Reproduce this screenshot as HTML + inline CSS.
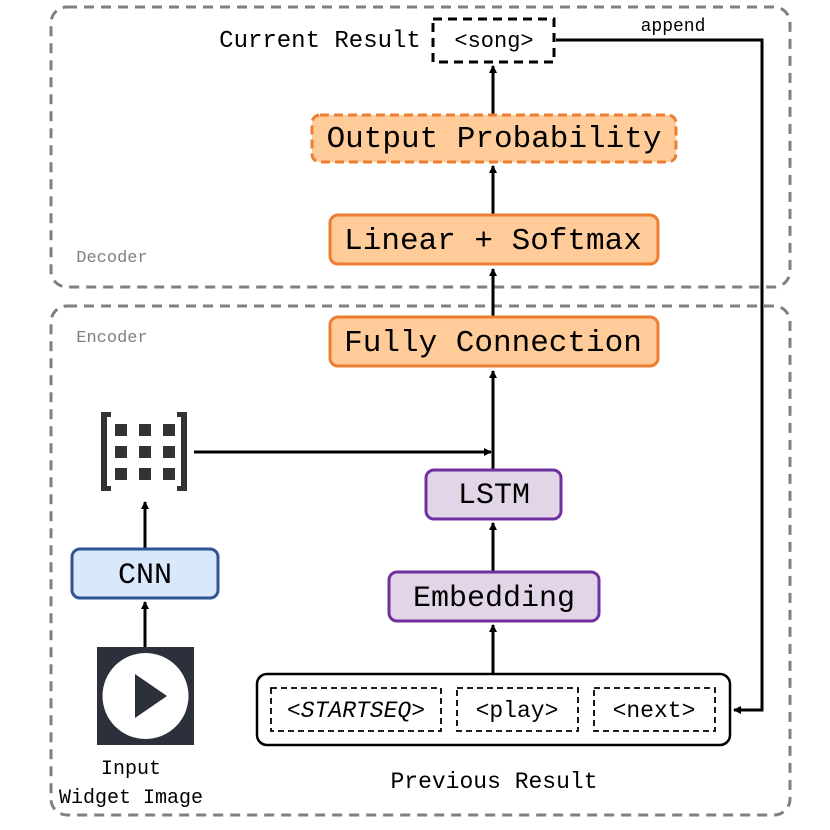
<!DOCTYPE html>
<html><head><meta charset="utf-8"><style>
html,body{margin:0;padding:0;background:#fff;}
svg{display:block;}
text{font-family:"Liberation Mono","Courier New",monospace;text-anchor:middle;}
</style></head><body>
<svg width="830" height="830" viewBox="0 0 830 830" xmlns="http://www.w3.org/2000/svg">
<defs>
<marker id="ah" markerWidth="8" markerHeight="8" refX="7" refY="4" orient="auto" markerUnits="userSpaceOnUse">
<path d="M0,0 L8,4 L0,8 Z" fill="#000"/>
</marker>
</defs>
<rect x="51" y="7" width="739" height="280" rx="16" fill="none" stroke="#808080" stroke-width="3" stroke-dasharray="10,7"/>
<rect x="51" y="306" width="739" height="509" rx="16" fill="none" stroke="#808080" stroke-width="3" stroke-dasharray="10,7"/>
<text x="112" y="262" font-size="17" fill="#808080">Decoder</text>
<text x="112" y="342" font-size="17" fill="#808080">Encoder</text>

<g stroke="#000" stroke-width="3" fill="none">
<line x1="493" y1="114" x2="493" y2="66" marker-end="url(#ah)"/>
<line x1="493" y1="215" x2="493" y2="166" marker-end="url(#ah)"/>
<line x1="493" y1="317" x2="493" y2="269" marker-end="url(#ah)"/>
<line x1="493" y1="470" x2="493" y2="371" marker-end="url(#ah)"/>
<line x1="493" y1="572" x2="493" y2="523" marker-end="url(#ah)"/>
<line x1="493" y1="674" x2="493" y2="625" marker-end="url(#ah)"/>
<line x1="194" y1="452" x2="491" y2="452" marker-end="url(#ah)"/>
<line x1="145" y1="549" x2="145" y2="502" marker-end="url(#ah)"/>
<line x1="145" y1="647" x2="145" y2="602" marker-end="url(#ah)"/>
<polyline points="556,40 762,40 762,710 734,710" marker-end="url(#ah)"/>
</g>
<text x="673" y="31" font-size="18">append</text>

<rect x="433" y="19" width="121" height="43" fill="#fff" stroke="#000" stroke-width="3" stroke-dasharray="9,6"/>
<text x="494" y="47" font-size="22">&lt;song&gt;</text>
<text x="320" y="47" font-size="24">Current Result</text>

<rect x="312" y="115" width="364" height="47" rx="8" fill="#ffcc99" stroke="#ed7d31" stroke-width="3" stroke-dasharray="9,5"/>
<text x="494" y="147" font-size="31">Output Probability</text>
<rect x="330" y="215" width="328" height="49" rx="8" fill="#ffcc99" stroke="#ed7d31" stroke-width="3"/>
<text x="493" y="249" font-size="31">Linear + Softmax</text>
<rect x="330" y="317" width="328" height="49" rx="8" fill="#ffcc99" stroke="#ed7d31" stroke-width="3"/>
<text x="493" y="351" font-size="31">Fully Connection</text>

<rect x="426" y="470" width="135" height="49" rx="8" fill="#e1d5e7" stroke="#7030a0" stroke-width="3"/>
<text x="494" y="503" font-size="30">LSTM</text>
<rect x="389" y="572" width="210" height="49" rx="8" fill="#e1d5e7" stroke="#7030a0" stroke-width="3"/>
<text x="494" y="606" font-size="30">Embedding</text>

<rect x="72" y="549" width="146" height="49" rx="8" fill="#dae8fc" stroke="#2f5597" stroke-width="3"/>
<text x="145" y="583" font-size="30">CNN</text>

<g fill="#333">
<path d="M101,412 h10 v5 h-4 v69 h4 v5 h-10 z"/>
<path d="M187,412 h-10 v5 h4 v69 h-4 v5 h10 z"/>
<rect x="115" y="424" width="12" height="12"/><rect x="139" y="424" width="12" height="12"/><rect x="163" y="424" width="12" height="12"/>
<rect x="115" y="446" width="12" height="12"/><rect x="139" y="446" width="12" height="12"/><rect x="163" y="446" width="12" height="12"/>
<rect x="115" y="468" width="12" height="12"/><rect x="139" y="468" width="12" height="12"/><rect x="163" y="468" width="12" height="12"/>
</g>

<rect x="97" y="647" width="97" height="98" fill="#2b303b"/>
<circle cx="145.5" cy="696" r="43" fill="#fff"/>
<path d="M135,674 L167,696 L135,718 Z" fill="#2b303b"/>
<text x="131" y="774" font-size="20">Input</text>
<text x="131" y="803" font-size="20">Widget Image</text>

<rect x="257" y="674" width="473" height="71" rx="10" fill="#fff" stroke="#000" stroke-width="2.5"/>
<g fill="none" stroke="#000" stroke-width="1.8" stroke-dasharray="6,4">
<rect x="271" y="688" width="170" height="43"/>
<rect x="457" y="688" width="121" height="43"/>
<rect x="594" y="688" width="121" height="43"/>
</g>
<text x="356" y="717" font-size="23">&lt;<tspan font-style="italic">STARTSEQ</tspan>&gt;</text>
<text x="517" y="717" font-size="23">&lt;play&gt;</text>
<text x="654" y="717" font-size="23">&lt;next&gt;</text>
<text x="494" y="788" font-size="23">Previous Result</text>
</svg>
</body></html>
